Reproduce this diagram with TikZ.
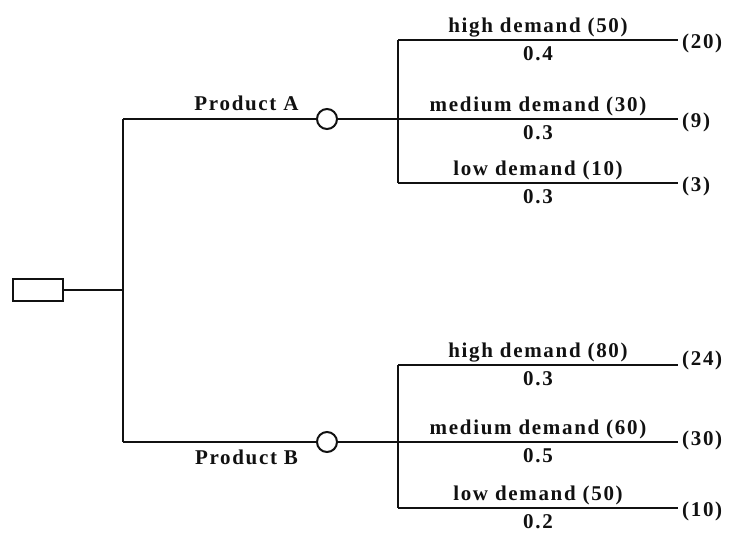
\documentclass[tikz,border=0pt]{standalone}
\usepackage{fontspec}
\setmainfont{Liberation Serif}[LetterSpace=8]
\usetikzlibrary{positioning,calc}
\definecolor{TreeInk}{HTML}{111111}
\definecolor{TreePaper}{HTML}{FFFFFF}
\tikzset{
  branch/.style={draw=TreeInk,line width=2pt},
  decbox/.style={draw=TreeInk,line width=2pt,fill=TreePaper,minimum width=50pt,minimum height=22pt,inner sep=0pt},
  chance/.style={circle,draw=TreeInk,line width=2pt,fill=TreePaper,minimum size=20pt,inner sep=0pt},
  lbl/.style={text=TreeInk,font=\fontsize{21}{23}\selectfont\bfseries,inner sep=2pt},
  pay/.style={lbl,anchor=west,inner sep=4pt}
}
\begin{document}
\begin{tikzpicture}[x=1pt,y=-1pt]
\useasboundingbox[fill=TreePaper] (0,0) rectangle (735,533);
% decision and fork
\node[decbox] (dec) at (38,290) {};
\coordinate (fork) at (123,290);
\coordinate (fa) at (123,119);
\coordinate (fb) at (123,442);
\node[chance] (ca) at (327,119) {};
\node[chance] (cb) at (327,442) {};
\draw[branch] (dec) -- (fork);
\draw[branch] (fa) -- (fb);
\draw[branch] (fa) -- node[lbl,pos=.64,above=5pt] {Product A} (ca);
\draw[branch] (fb) -- node[lbl,pos=.64,below=5pt] {Product B} (cb);
% product A outcomes
\coordinate (a1) at (398,40);
\coordinate (a2) at (398,119);
\coordinate (a3) at (398,183);
\node[pay] (pa1) at (678,43) {(20)};
\node[pay] (pa2) at (678,122) {(9)};
\node[pay] (pa3) at (678,186) {(3)};
\draw[branch] (a1) -- (a3);
\draw[branch] (a1) -- node[lbl,above] {high demand (50)} node[lbl,below=4pt] {0.4} (a1-|pa1.west);
\draw[branch] (ca) -- (a2) -- node[lbl,above] {medium demand (30)} node[lbl,below=4pt] {0.3} (a2-|pa2.west);
\draw[branch] (a3) -- node[lbl,above] {low demand (10)} node[lbl,below=4pt] {0.3} (a3-|pa3.west);
% product B outcomes
\coordinate (b1) at (398,365);
\coordinate (b2) at (398,442);
\coordinate (b3) at (398,508);
\node[pay] (pb1) at (678,360) {(24)};
\node[pay] (pb2) at (678,440) {(30)};
\node[pay] (pb3) at (678,511) {(10)};
\draw[branch] (b1) -- (b3);
\draw[branch] (b1) -- node[lbl,above] {high demand (80)} node[lbl,below=4pt] {0.3} (b1-|pb1.west);
\draw[branch] (cb) -- (b2) -- node[lbl,above] {medium demand (60)} node[lbl,below=4pt] {0.5} (b2-|pb2.west);
\draw[branch] (b3) -- node[lbl,above] {low demand (50)} node[lbl,below=4pt] {0.2} (b3-|pb3.west);
\end{tikzpicture}
\end{document}
